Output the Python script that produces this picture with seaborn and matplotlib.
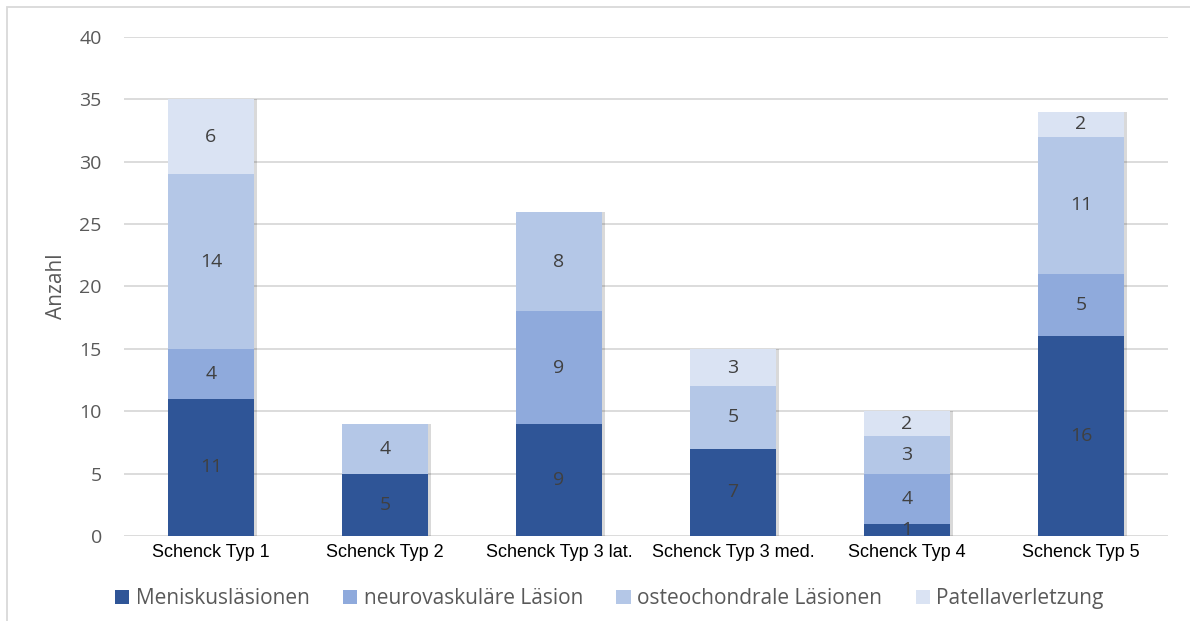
import matplotlib
matplotlib.use("Agg")
import matplotlib.pyplot as plt
import matplotlib.patheffects as pe
from matplotlib.patches import Rectangle, Patch
import numpy as np
import pandas as pd
import seaborn as sns

# Schenck classification groups and injury counts per group
categories = ["Schenck Typ 1", "Schenck Typ 2", "Schenck Typ 3 lat.",
              "Schenck Typ 3 med.", "Schenck Typ 4", "Schenck Typ 5"]
series_names = ["Meniskusläsionen", "neurovaskuläre Läsion",
                "osteochondrale Läsionen", "Patellaverletzung"]
meniskus = [11, 5, 9, 7, 1, 16]
neurovaskulaer = [4, 0, 9, 0, 4, 5]
osteochondral = [14, 4, 8, 5, 3, 11]
patella = [6, 0, 0, 3, 2, 2]
y_ticks = [0, 5, 10, 15, 20, 25, 30, 35, 40]

colors = ["#2F5597", "#8FAADC", "#B4C7E7", "#DAE3F3"]

sns.set_theme(style="white")
plt.rcParams["font.family"] = ["Open Sans", "DejaVu Sans"]

fig = plt.figure(figsize=(11.9, 6.21), dpi=100)
ax = fig.add_axes([0.1042, 0.1369, 0.8773, 0.8035])

df = pd.DataFrame({"Kategorie": categories,
                   series_names[0]: meniskus,
                   series_names[1]: neurovaskulaer,
                   series_names[2]: osteochondral,
                   series_names[3]: patella})

# soft shadow on the right side of each bar segment
shadow = [pe.SimplePatchShadow(offset=(2, 0), shadow_rgbFace="#000000",
                               alpha=0.15), pe.Normal()]

bottom = np.zeros(len(categories))
for name, col in zip(series_names, colors):
    vals = df[name].to_numpy(dtype=float)
    sns.barplot(x=df["Kategorie"], y=vals, bottom=bottom, color=col,
                width=0.495, ax=ax, saturation=1, legend=False,
                linewidth=0, zorder=3)
    for i, v in enumerate(vals):
        if v > 0:
            ax.text(i, bottom[i] + v / 2, f"{int(v)}", ha="center",
                    va="center", fontsize=14, color="#404040", zorder=5)
    bottom = bottom + vals

for p in ax.patches:
    if p.get_height() > 0:
        p.set_path_effects(shadow)

ax.set_xlim(-0.5, len(categories) - 0.5)
ax.set_ylim(0, 40)
ax.set_yticks(y_ticks)
ax.yaxis.grid(True, color="#D9D9D9", linewidth=1.3, zorder=0)
ax.set_axisbelow(True)
for s in ax.spines.values():
    s.set_visible(False)

ax.tick_params(axis="y", length=0, pad=16, labelsize=14, labelcolor="#595959")
ax.tick_params(axis="x", length=0, pad=6, labelsize=13, labelcolor="#000000")
for lab in ax.get_xticklabels():
    lab.set_fontfamily(["Liberation Sans", "DejaVu Sans"])

ax.set_xlabel("")
ax.set_ylabel("Anzahl", fontsize=15, color="#595959", labelpad=9)

handles = [Patch(facecolor=c, edgecolor="none") for c in colors]
fig.legend(handles, series_names, loc="center", bbox_to_anchor=(0.512, 0.036),
           ncol=4, frameon=False, fontsize=15, labelcolor="#595959",
           handlelength=0.7, handleheight=0.7, handletextpad=0.3,
           columnspacing=1.6)

# chart frame
fig.patches.append(Rectangle((7 / 1190, -0.05), 1.2, 1 - 7 / 621 + 0.05,
                             transform=fig.transFigure, fill=False,
                             edgecolor="#D9D9D9", linewidth=1.3))

fig.savefig("out.png", dpi=100)
